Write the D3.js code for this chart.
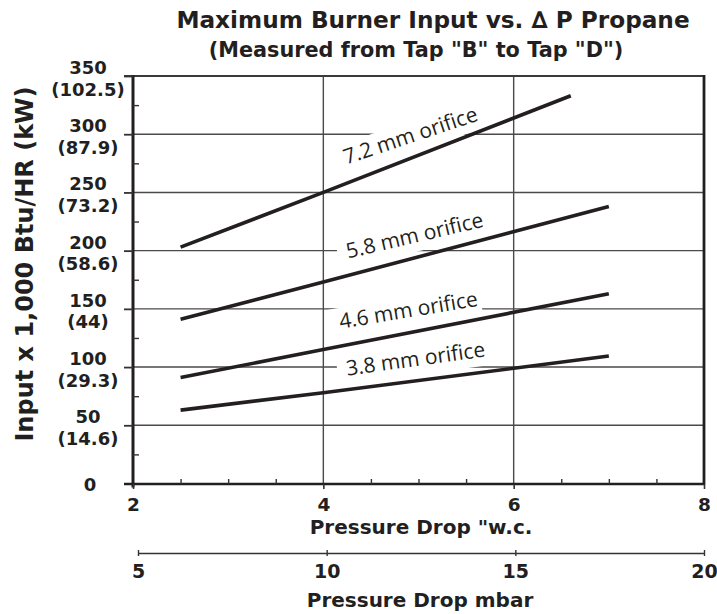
<!DOCTYPE html>
<html><head><meta charset="utf-8">
<script src="https://cdn.jsdelivr.net/npm/d3@7"></script>
<style>
html,body{margin:0;padding:0;background:#fff;}
svg{display:block;}
</style></head><body>
<svg id="chart" width="717" height="614"></svg>
<script>
// ---------- data ----------
const titleText = "Maximum Burner Input vs. \u2206 P Propane";
const subtitleText = '(Measured from Tap "B" to Tap "D")';
const yTitleText = "Input x 1,000 Btu/HR (kW)";
const xTitleText = 'Pressure Drop "w.c.';
const x2TitleText = "Pressure Drop mbar";

const yTicksBtu = [0, 50, 100, 150, 200, 250, 300, 350];
const yTicksKw = ["", "(14.6)", "(29.3)", "(44)", "(58.6)", "(73.2)", "(87.9)", "(102.5)"];
const xTicksWc = [2, 4, 6, 8];
const xTicksMbar = [5, 10, 15, 20];

const seriesNames = ["7.2 mm orifice", "5.8 mm orifice", "4.6 mm orifice", "3.8 mm orifice"];
const wc72 = [2.5, 4, 6.6];  const btu72 = [203, 250, 333];
const wc58 = [2.5, 4, 7];    const btu58 = [141, 173, 238];
const wc46 = [2.5, 4, 7];    const btu46 = [91, 115, 163];
const wc38 = [2.5, 4, 7];    const btu38 = [63, 78, 109.5];

// ---------- layout / style ----------
const ink = "#231f20";
const gridCol = "#4a4a4a";
const boldFont = "'DejaVu Sans', Lato, sans-serif";
const labelFont = "'Open Sans', 'Noto Sans', sans-serif";

const svg = d3.select("#chart");
const x = d3.scaleLinear().domain([2, 8]).range([133, 704]);
const y = d3.scaleLinear().domain([0, 350]).range([483.5, 76]);
const xm = d3.scaleLinear().domain([5, 20]).range([138, 704]);

const series = [
  {name: seriesNames[0], wc: wc72, btu: btu72},
  {name: seriesNames[1], wc: wc58, btu: btu58},
  {name: seriesNames[2], wc: wc46, btu: btu46},
  {name: seriesNames[3], wc: wc38, btu: btu38}
];
// label placement: start x (in "w.c."), pixels above line, rotation
const labelLayout = [
  {at: 4.24, lift: 19, rot: -18.4},
  {at: 4.26, lift: 17, rot: -13.2},
  {at: 4.18, lift: 17.4, rot: -9.5},
  {at: 4.25, lift: 14, rot: -7.9}
];

// ---------- grid ----------
const grid = svg.append("g");
grid.selectAll("line.h").data(yTicksBtu.filter(v => v > 0 && v < 350)).join("line")
  .attr("x1", x(2)).attr("x2", x(8)).attr("y1", d => y(d)).attr("y2", d => y(d))
  .attr("stroke", gridCol).attr("stroke-width", 1.4);
grid.selectAll("line.v").data(xTicksWc.filter(v => v > 2 && v < 8)).join("line")
  .attr("x1", d => x(d)).attr("x2", d => x(d)).attr("y1", y(0)).attr("y2", y(350))
  .attr("stroke", gridCol).attr("stroke-width", 1.4);

// ---------- label masks + labels ----------
const labG = svg.append("g");
series.forEach((s, i) => {
  const L = labelLayout[i];
  const lineAt = d3.scaleLinear().domain(s.wc).range(s.btu);
  const px = x(L.at), py = y(lineAt(L.at)) - L.lift;
  const g = labG.append("g").attr("transform", `translate(${px},${py}) rotate(${L.rot})`);
  const r = g.append("rect").attr("fill", "#fff");
  const t = g.append("text").text(s.name)
    .attr("font-family", labelFont).attr("font-size", 21).attr("fill", ink);
  const w = t.node().getComputedTextLength();
  r.attr("x", -9).attr("y", -21).attr("width", w + 12).attr("height", 30);
});

// ---------- frame ----------
svg.append("line").attr("x1", 124).attr("x2", x(8)).attr("y1", y(350)).attr("y2", y(350))
  .attr("stroke", "#3a3a3a").attr("stroke-width", 2.2);
svg.append("line").attr("x1", x(8)).attr("x2", x(8)).attr("y1", y(350) - 1).attr("y2", y(0) + 1)
  .attr("stroke", ink).attr("stroke-width", 2.8);

// ---------- y axis ----------
const yAx = svg.append("g").attr("transform", `translate(${x(2)},0)`)
  .call(d3.axisLeft(y).tickValues(yTicksBtu).tickSize(9).tickSizeOuter(0).tickFormat(""));
yAx.select(".domain").attr("stroke", ink).attr("stroke-width", 3)
  .attr("d", `M0,${y(350) - 1}V${y(0) + 4}`);
yAx.selectAll(".tick line").attr("stroke", "#333").attr("stroke-width", 1.8);
const yMin = svg.append("g").attr("transform", `translate(${x(2)},0)`)
  .call(d3.axisRight(y).tickValues(d3.range(25, 350, 50)).tickSize(6).tickFormat(""));
yMin.select(".domain").remove();
yMin.selectAll(".tick line").attr("stroke", "#333").attr("stroke-width", 1.4);

const yLab = svg.append("g").attr("font-family", boldFont).attr("font-weight", "bold")
  .attr("font-size", 18).attr("fill", ink).attr("text-anchor", "middle");
yTicksBtu.forEach((v, i) => {
  if (v === 0) {
    yLab.append("text").attr("x", 90).attr("y", y(v) + 7).text(String(v));
  } else {
    yLab.append("text").attr("x", 88).attr("y", y(v) - 2).text(String(v));
    yLab.append("text").attr("x", 88).attr("y", y(v) + 19.5).text(yTicksKw[i]);
  }
});

// ---------- x axis ("w.c.) ----------
const xAx = svg.append("g").attr("transform", `translate(0,${y(0) + 0.5})`)
  .call(d3.axisBottom(x).tickValues(xTicksWc).tickSize(5).tickSizeOuter(0).tickFormat(d3.format("d")));
xAx.select(".domain").attr("stroke", ink).attr("stroke-width", 2.6)
  .attr("d", `M124,0H${x(8) + 1}`);
xAx.selectAll(".tick line").attr("stroke", "#333").attr("stroke-width", 1.6);
xAx.selectAll(".tick text").attr("y", 26.5).attr("dy", null)
  .attr("font-family", boldFont).attr("font-weight", "bold").attr("font-size", 18.5).attr("fill", ink);
const xMin = svg.append("g").attr("transform", `translate(0,${y(0) + 0.5})`)
  .call(d3.axisTop(x).tickValues([2.5, 3, 3.5, 4.5, 5, 5.5, 6.5, 7, 7.5]).tickSize(5).tickFormat(""));
xMin.select(".domain").remove();
xMin.selectAll(".tick line").attr("stroke", "#333").attr("stroke-width", 1.4);

// ---------- x axis (mbar) ----------
const mAx = svg.append("g").attr("transform", "translate(0,553)")
  .call(d3.axisBottom(xm).tickValues(xTicksMbar).tickSize(3).tickSizeOuter(0).tickFormat(d3.format("d")));
mAx.select(".domain").attr("stroke", "#333").attr("stroke-width", 1.4);
mAx.selectAll(".tick line").attr("stroke", "#333").attr("stroke-width", 1.4);
mAx.selectAll(".tick text").attr("y", 24.7).attr("dy", null)
  .attr("font-family", boldFont).attr("font-weight", "bold").attr("font-size", 19).attr("fill", ink);
const mTop = svg.append("g").attr("transform", "translate(0,553)")
  .call(d3.axisTop(xm).tickValues(xTicksMbar).tickSize(3).tickFormat(""));
mTop.select(".domain").remove();
mTop.selectAll(".tick line").attr("stroke", "#333").attr("stroke-width", 1.4);

// ---------- lines ----------
const lineGen = d3.line().x(d => x(d[0])).y(d => y(d[1]));
svg.append("g").selectAll("path").data(series).join("path")
  .attr("d", s => lineGen(d3.zip(s.wc, s.btu)))
  .attr("fill", "none").attr("stroke", ink).attr("stroke-width", 3.6);

// ---------- titles ----------
const tG = svg.append("g").attr("font-family", boldFont).attr("font-weight", "bold")
  .attr("fill", ink).attr("text-anchor", "middle");
tG.append("text").attr("x", 433).attr("y", 28).attr("font-size", 23.2).text(titleText);
tG.append("text").attr("x", 416).attr("y", 57).attr("font-size", 20.8).text(subtitleText);
tG.append("text").attr("x", 421).attr("y", 534).attr("font-size", 20).text(xTitleText);
tG.append("text").attr("x", 420).attr("y", 606.7).attr("font-size", 20).text(x2TitleText);
tG.append("text").attr("transform", "translate(33,264) rotate(-90)").attr("font-size", 24).text(yTitleText);
</script>
</body></html>
